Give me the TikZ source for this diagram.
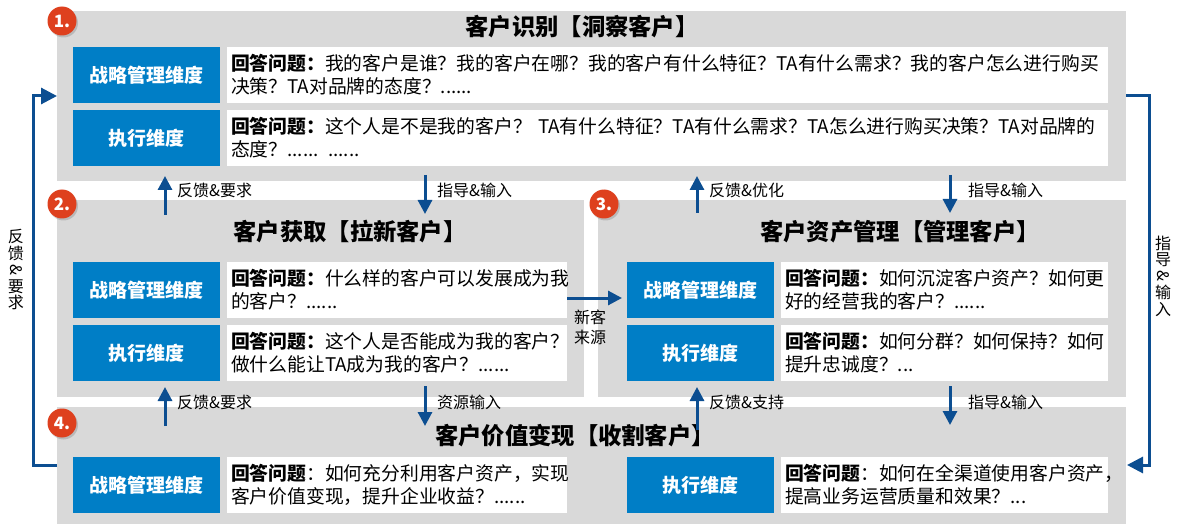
\documentclass[tikz,border=0pt]{standalone}
\usepackage{fontspec}
\usepackage{graphicx}
\setmainfont{Noto Sans CJK SC}
\usetikzlibrary{arrows.meta,shadows}
\definecolor{pgray}{RGB}{217,217,217}
\definecolor{boxblue}{RGB}{0,126,198}
\definecolor{arrblue}{RGB}{12,78,145}
\definecolor{badgered}{RGB}{222,64,30}
\newcommand{\amp}{\rotatebox[origin=c]{-90}{\&}}
\begin{document}
\begin{tikzpicture}[x=1pt,y=-1pt,
  panel/.style={fill=pgray,draw=none,inner sep=0,outer sep=0,anchor=north west},
  dimbox/.style={fill=boxblue,text=white,font=\fontsize{19}{22}\selectfont\bfseries,
    minimum width=147pt,minimum height=56pt,inner sep=0,outer sep=0,anchor=north west},
  ansbox/.style={fill=white,align=left,font=\fontsize{18.8}{23}\selectfont,
    minimum height=56pt,inner xsep=4pt,inner ysep=0,outer sep=0,anchor=north west},
  ptitle/.style={font=\fontsize{23.3}{26}\selectfont\bfseries,inner sep=0},
  lbl/.style={font=\fontsize{16}{18}\selectfont,anchor=west,inner sep=0},
  vlbl/.style={font=\fontsize{16}{16.5}\selectfont,align=center,inner sep=0},
  arr/.style={draw=arrblue,line width=3pt,-{Triangle[length=14pt,width=14pt]}},
  sidearr/.style={draw=arrblue,line width=3pt,-{Triangle[length=16pt,width=16pt]}},
  badge/.style={circle,fill=badgered,text=white,font=\fontsize{17}{17}\selectfont\bfseries,
    minimum size=29pt,inner sep=0,drop shadow={opacity=0.35,shadow xshift=1.5pt,shadow yshift=-2pt}}
]
\useasboundingbox (0,0) rectangle (1179,524);
% panels
\node[panel,minimum width=1069pt,minimum height=170pt] (p1) at (57,11) {};
\node[panel,minimum width=527pt,minimum height=197pt] (p2) at (57,200) {};
\node[panel,minimum width=528pt,minimum height=197pt] (p3) at (598,200) {};
\node[panel,minimum width=1069pt,minimum height=117pt] (p4) at (57,407) {};
% titles
\node[ptitle] (t1) at (582,27) {客户识别【洞察客户】};
\node[ptitle] (t2) at (350,232) {客户获取【拉新客户】};
\node[ptitle] (t3) at (900,232) {客户资产管理【管理客户】};
\node[ptitle] (t4) at (575,436) {客户价值变现【收割客户】};
% panel 1
\node[dimbox] (b1a) at (73,47) {战略管理维度};
\node[dimbox] (b1b) at (73,110) {执行维度};
\node[ansbox,minimum width=881pt,text width=873pt] (w1a) at (227,47)
  {\textbf{回答问题：}我的客户是谁？我的客户在哪？我的客户有什么特征？TA有什么需求？我的客户怎么进行购买\\决策？TA对品牌的态度？......};
\node[ansbox,minimum width=881pt,text width=873pt] (w1b) at (227,110)
  {\textbf{回答问题：}这个人是不是我的客户？ TA有什么特征？TA有什么需求？TA怎么进行购买决策？TA对品牌的\\态度？...... ......};
% panel 2
\node[dimbox] (b2a) at (73,262) {战略管理维度};
\node[dimbox] (b2b) at (73,325) {执行维度};
\node[ansbox,minimum width=340pt,text width=332pt] (w2a) at (227,262)
  {\textbf{回答问题：}什么样的客户可以发展成为我\\的客户？......};
\node[ansbox,minimum width=340pt,text width=332pt] (w2b) at (227,325)
  {\textbf{回答问题：}这个人是否能成为我的客户？\\做什么能让TA成为我的客户？......};
% panel 3
\node[dimbox] (b3a) at (627,262) {战略管理维度};
\node[dimbox] (b3b) at (627,325) {执行维度};
\node[ansbox,minimum width=327pt,text width=319pt] (w3a) at (781,262)
  {\textbf{回答问题：}如何沉淀客户资产？如何更\\好的经营我的客户？......};
\node[ansbox,minimum width=327pt,text width=319pt] (w3b) at (781,325)
  {\textbf{回答问题：}如何分群？如何保持？如何\\提升忠诚度？...};
% panel 4
\node[dimbox] (b4a) at (73,457) {战略管理维度};
\node[dimbox] (b4b) at (627,457) {执行维度};
\node[ansbox,minimum width=340pt,text width=332pt] (w4a) at (227,457)
  {\textbf{回答问题}：如何充分利用客户资产，实现\\客户价值变现，提升企业收益？......};
\node[ansbox,minimum width=327pt,text width=319pt] (w4b) at (781,457)
  {\textbf{回答问题}：如何在全渠道使用客户资产，\\提高业务运营质量和效果？...};
% badges
\node[badge] (n1) at (62,21) {1.};
\node[badge] (n2) at (62,204) {2.};
\node[badge] (n3) at (604,204) {3.};
\node[badge] (n4) at (62,423) {4.};
% arrows between panels (top)
\coordinate (a1s) at (165,215); \coordinate (a1e) at (165,176);
\coordinate (a2s) at (425,175); \coordinate (a2e) at (425,214);
\coordinate (a3s) at (697,213); \coordinate (a3e) at (697,176);
\coordinate (a4s) at (950,175); \coordinate (a4e) at (950,213);
\draw[arr] (a1s) -- (a1e);
\draw[arr] (a2s) -- (a2e);
\draw[arr] (a3s) -- (a3e);
\draw[arr] (a4s) -- (a4e);
\node[lbl] (l1) at (177,190) {反馈\&要求};
\node[lbl] (l2) at (437,190) {指导\&输入};
\node[lbl] (l3) at (709,190) {反馈\&优化};
\node[lbl] (l4) at (968,190) {指导\&输入};
% arrows between panels (bottom)
\coordinate (c1s) at (165,426); \coordinate (c1e) at (165,387);
\coordinate (c2s) at (425,386); \coordinate (c2e) at (425,426);
\coordinate (c3s) at (697,430); \coordinate (c3e) at (697,387);
\coordinate (c4s) at (950,386); \coordinate (c4e) at (950,425);
\draw[arr] (c1s) -- (c1e);
\draw[arr] (c2s) -- (c2e);
\draw[arr] (c3s) -- (c3e);
\draw[arr] (c4s) -- (c4e);
\node[lbl] (m1) at (177,402) {反馈\&要求};
\node[lbl] (m2) at (437,402) {资源输入};
\node[lbl] (m3) at (709,402) {反馈\&支持};
\node[lbl] (m4) at (968,402) {指导\&输入};
% new customer source
\coordinate (nc1) at (567,298); \coordinate (nc2) at (622,298);
\draw[arr] (nc1) -- (nc2);
\node[vlbl,font=\fontsize{16}{20}\selectfont] (ncl) at (590,327) {新客\\来源};
% side loops
\coordinate (lA) at (57,465); \coordinate (lB) at (57,96);
\draw[sidearr] (lA) -- (33,465) -- (33,96) -- (lB);
\node[vlbl] (lv) at (16,270) {反\\馈\\\amp\\要\\求};
\coordinate (rA) at (1126,96); \coordinate (rB) at (1127,465);
\draw[sidearr] (rA) -- (1149,96) -- (1149,465) -- (rB);
\node[vlbl] (rv) at (1163,276) {指\\导\\\amp\\输\\入};
\end{tikzpicture}
\end{document}
